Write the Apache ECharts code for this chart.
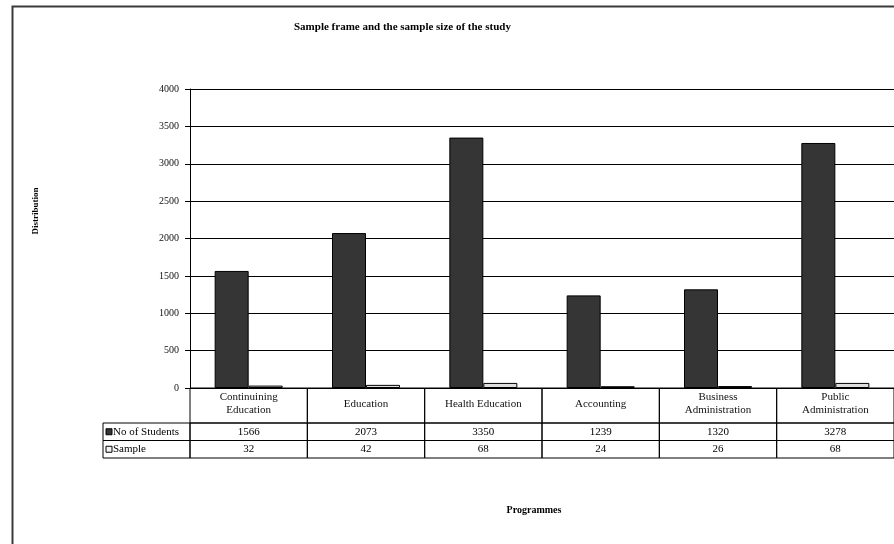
<!DOCTYPE html>
<html>
<head>
<meta charset="utf-8">
<script src="https://cdn.jsdelivr.net/npm/echarts@6/dist/echarts.min.js"></script>
<style>
  html, body { margin: 0; padding: 0; background: #fff; }
  #chart { width: 894px; height: 544px; }
</style>
</head>
<body>
<div id="chart"></div>
<script>
// Programmes and their figures
var categories = ['Continuining\nEducation', 'Education', 'Health Education', 'Accounting', 'Business\nAdministration', 'Public\nAdministration'];
var students = [1566, 2073, 3350, 1239, 1320, 3278];
var sample = [32, 42, 68, 24, 26, 68];
var rowNames = ['No of Students', 'Sample'];
var yTicks = { min: 0, max: 4000, interval: 500 };

var SERIF = '"Liberation Serif", "Times New Roman", serif';
var DARK = '#353535';
var LIGHT = '#dedede';

var chart = echarts.init(document.getElementById('chart'), null, { renderer: 'canvas' });

// Data table under the plot: header row (0-2), student row (2-3), sample row (3-4)
function renderTable(params, api) {
  var idx = api.value(0);
  var c = api.coord([idx, 0]);
  var band = api.size([1, 0])[0];
  var left = c[0] - band / 2;
  var y0 = api.coord([idx, 0])[1];
  var y2 = api.coord([idx, 2])[1];
  var y3 = api.coord([idx, 3])[1];
  var y4 = api.coord([idx, 4])[1];
  var line = { stroke: '#000', lineWidth: 1, fill: null };
  var txt = function (x, y, s, align) {
    return { type: 'text', style: { x: x, y: y, text: s, fill: '#000', font: '11px ' + SERIF, align: align || 'center', verticalAlign: 'middle' } };
  };
  var kids = [
    { type: 'rect', shape: { x: left, y: y0, width: band, height: y2 - y0 }, style: line },
    { type: 'rect', shape: { x: left, y: y2, width: band, height: y3 - y2 }, style: line },
    { type: 'rect', shape: { x: left, y: y3, width: band, height: y4 - y3 }, style: line },
    txt(c[0], (y2 + y3) / 2, String(api.value(1))),
    txt(c[0], (y3 + y4) / 2, String(api.value(2)))
  ];
  if (idx === 0) {
    var w = 87;
    var lx = left - w;
    kids.push(
      { type: 'rect', shape: { x: lx, y: y2, width: w, height: y3 - y2 }, style: line },
      { type: 'rect', shape: { x: lx, y: y3, width: w, height: y4 - y3 }, style: line },
      { type: 'rect', shape: { x: lx + 3, y: (y2 + y3) / 2 - 3, width: 6, height: 6 }, style: { fill: DARK, stroke: '#000', lineWidth: 1 } },
      { type: 'rect', shape: { x: lx + 3, y: (y3 + y4) / 2 - 3, width: 6, height: 6 }, style: { fill: '#f2f2f2', stroke: '#000', lineWidth: 1 } },
      txt(lx + 10, (y2 + y3) / 2, rowNames[0], 'left'),
      txt(lx + 10, (y3 + y4) / 2, rowNames[1], 'left')
    );
  }
  return { type: 'group', children: kids };
}

var option = {
  backgroundColor: '#fff',
  animation: false,
  title: {
    text: 'Sample frame and the sample size of the study',
    left: 289, top: 17,
    textStyle: { fontFamily: SERIF, fontSize: 11, fontWeight: 'bold', color: '#000' }
  },
  graphic: [
    { type: 'rect', left: 10, top: 4, shape: { width: 900, height: 560 }, style: { fill: null, stroke: '#3a3a3a', lineWidth: 2 } },
    { type: 'text', x: 36, y: 211, rotation: Math.PI / 2, style: { text: 'Distribution', font: 'bold 9px ' + SERIF, fill: '#000', align: 'center', verticalAlign: 'middle' } },
    { type: 'text', x: 534, y: 510, style: { text: 'Programmes', font: 'bold 10px ' + SERIF, fill: '#000', align: 'center', verticalAlign: 'middle' } }
  ],
  grid: [
    { left: 190, top: 89, width: 706, height: 299 },
    { left: 190, top: 388, width: 706, height: 70 }
  ],
  xAxis: [
    {
      type: 'category', gridIndex: 0, data: categories,
      axisLine: { show: true, lineStyle: { color: '#000', width: 1 } },
      axisTick: { show: false },
      axisLabel: { interval: 0, color: '#111', fontFamily: SERIF, fontSize: 11, lineHeight: 13, verticalAlign: 'middle', margin: 16 }
    },
    {
      type: 'category', gridIndex: 1, data: categories,
      axisLine: { show: false }, axisTick: { show: false }, axisLabel: { show: false }
    }
  ],
  yAxis: [
    {
      type: 'value', gridIndex: 0, min: yTicks.min, max: yTicks.max, interval: yTicks.interval,
      axisLine: { show: true, lineStyle: { color: '#000', width: 1 } },
      axisTick: { show: true, length: 5, lineStyle: { color: '#000' } },
      splitLine: { show: true, lineStyle: { color: '#000', width: 1 } },
      axisLabel: { color: '#111', fontFamily: SERIF, fontSize: 10, margin: 11, formatter: function (v) { return String(v); } }
    },
    {
      type: 'value', gridIndex: 1, min: 0, max: 4, inverse: true,
      axisLine: { show: false }, axisTick: { show: false }, axisLabel: { show: false }, splitLine: { show: false }
    }
  ],
  series: [
    {
      name: rowNames[0], type: 'bar', xAxisIndex: 0, yAxisIndex: 0, data: students,
      barWidth: 34, barGap: '0%',
      itemStyle: { color: DARK, borderColor: '#000', borderWidth: 1 }
    },
    {
      name: rowNames[1], type: 'bar', xAxisIndex: 0, yAxisIndex: 0, data: sample,
      barWidth: 34,
      itemStyle: { color: LIGHT, borderColor: '#000', borderWidth: 1 }
    },
    {
      type: 'custom', xAxisIndex: 1, yAxisIndex: 1, silent: true,
      data: categories.map(function (c, i) { return [i, students[i], sample[i]]; }),
      renderItem: renderTable
    }
  ]
};

chart.setOption(option);
</script>
</body>
</html>
